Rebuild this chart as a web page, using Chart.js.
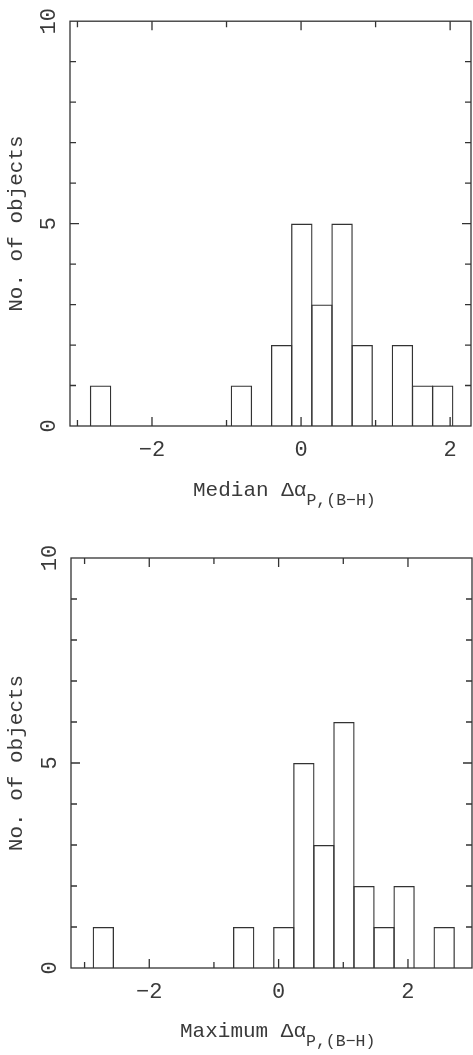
<!DOCTYPE html>
<html>
<head>
<meta charset="utf-8">
<script src="https://cdn.jsdelivr.net/npm/chart.js@4.4.1/dist/chart.umd.min.js"></script>
<style>
  html, body { margin: 0; padding: 0; background: #fff; }
  #wrap { position: relative; width: 473px; height: 1055px; overflow: hidden; }
  canvas { display: block; }
  .xt { position: absolute; font-family: "Liberation Mono", monospace; font-size: 21px; line-height: 21px; color: #3a3a3a; white-space: nowrap; }
  .xt .sub { font-size: 16.5px; vertical-align: -9px; }
</style>
</head>
<body>
<div id="wrap">
  <canvas id="c1" width="473" height="527"></canvas>
  <canvas id="c2" width="473" height="528"></canvas>
  <div class="xt" id="t1" style="left:193px; top:480px;">Median Δα<span class="sub">P,(B−H)</span></div>
  <div class="xt" id="t2" style="left:180px; top:1021px;">Maximum Δα<span class="sub">P,(B−H)</span></div>
</div>
<script>
// ---- data ----
const medianBinCenters = [-2.69, -2.42, -2.15, -1.88, -1.61, -1.34, -1.07, -0.80, -0.53, -0.26, 0.01, 0.28, 0.55, 0.82, 1.09, 1.36, 1.63, 1.90];
const medianCounts     = [1, 0, 0, 0, 0, 0, 0, 1, 0, 2, 5, 3, 5, 2, 0, 2, 1, 1];
const maximumBinCenters = [-2.71, -2.40, -2.09, -1.78, -1.47, -1.16, -0.85, -0.54, -0.23, 0.08, 0.39, 0.70, 1.01, 1.32, 1.63, 1.94, 2.25, 2.56];
const maximumCounts     = [1, 0, 0, 0, 0, 0, 0, 1, 0, 1, 5, 3, 6, 2, 1, 2, 0, 1];
const xTickLabels = [-2, 0, 2];
const yTickLabels = [0, 5, 10];
const yTitle = "No. of objects";

const LINE = '#333333';
const TEXT = '#3a3a3a';
const FONT = '"Liberation Mono", monospace';

const frameTicks = {
  id: 'frameTicks',
  afterDatasetsDraw(chart) {
    const {ctx, chartArea: a, scales: {x, y}} = chart;
    ctx.save();
    ctx.strokeStyle = LINE;
    ctx.lineWidth = 1.3;
    ctx.strokeRect(a.left, a.top, a.right - a.left, a.bottom - a.top);
    ctx.beginPath();
    for (let v = Math.ceil(x.min); v <= Math.floor(x.max); v++) {
      const px = x.getPixelForValue(v);
      if (px - a.left < 2 || a.right - px < 2) continue;
      const len = xTickLabels.includes(v) ? 9 : 6;
      ctx.moveTo(px, a.bottom); ctx.lineTo(px, a.bottom - len);
      ctx.moveTo(px, a.top); ctx.lineTo(px, a.top + len);
    }
    for (let v = Math.ceil(y.min) + 1; v < Math.floor(y.max); v++) {
      const py = y.getPixelForValue(v);
      const len = yTickLabels.includes(v) ? 9 : 6;
      ctx.moveTo(a.left, py); ctx.lineTo(a.left + len, py);
      ctx.moveTo(a.right, py); ctx.lineTo(a.right - len, py);
    }
    ctx.stroke();
    ctx.restore();
  }
};

function makeHist(canvasId, centers, counts, xMin, xMax, geom) {
  const pts = centers.map((c, i) => ({x: c, y: counts[i]}));
  return new Chart(document.getElementById(canvasId), {
    type: 'bar',
    data: {
      datasets: [{
        data: pts,
        backgroundColor: 'rgba(0,0,0,0)',
        borderColor: LINE,
        borderWidth: 1.3,
        borderSkipped: 'start',
        barPercentage: 1.065,
        categoryPercentage: 1.0
      }]
    },
    options: {
      responsive: false,
      animation: false,
      devicePixelRatio: 1,
      layout: { padding: { left: 0, right: geom.right, top: geom.top, bottom: 0 } },
      plugins: { legend: { display: false }, tooltip: { enabled: false } },
      scales: {
        x: {
          type: 'linear',
          min: xMin, max: xMax,
          offset: false,
          grid: { display: false, drawTicks: false },
          border: { display: false },
          afterBuildTicks: s => { s.ticks = xTickLabels.map(v => ({value: v})); },
          afterFit: s => { s.height = geom.xHeight; },
          ticks: {
            autoSkip: false, maxRotation: 0, minRotation: 0,
            padding: 11,
            color: TEXT,
            font: { family: FONT, size: 22 },
            callback: v => String(v).replace('-', '\u2212')
          }
        },
        y: {
          type: 'linear',
          min: 0, max: 10,
          grid: { display: false, drawTicks: false },
          border: { display: false },
          afterBuildTicks: s => { s.ticks = yTickLabels.map(v => ({value: v})); },
          afterFit: s => { s.width = geom.left; },
          ticks: {
            minRotation: 90, maxRotation: 90,
            crossAlign: 'center',
            padding: 8,
            color: TEXT,
            font: { family: FONT, size: 22 }
          },
          title: {
            display: true,
            text: yTitle,
            color: TEXT,
            font: { family: FONT, size: 21 },
            padding: { top: 4, bottom: 0 }
          }
        }
      }
    },
    plugins: [frameTicks]
  });
}

makeHist('c1', medianBinCenters, medianCounts, -3.1, 2.28, {left: 70, right: 2, top: 18, xHeight: 101});
makeHist('c2', maximumBinCenters, maximumCounts, -3.21, 2.99, {left: 71, right: 1, top: 31, xHeight: 87});
</script>
</body>
</html>
